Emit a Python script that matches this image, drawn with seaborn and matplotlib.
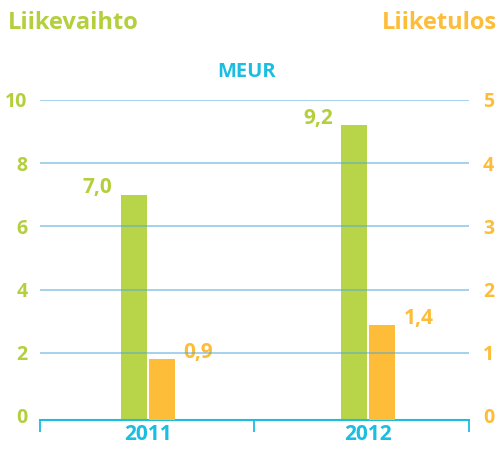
import matplotlib
matplotlib.use("Agg")
import matplotlib.pyplot as plt
import seaborn as sns
import pandas as pd

years = ["2011", "2012"]
liikevaihto = [7.0, 9.2]      # MEUR, left axis
liiketulos = [0.9, 1.44]      # MEUR, right axis
left_ticks = [0, 2, 4, 6, 8, 10]
right_ticks = [0, 1, 2, 3, 4, 5]
series = ["Liikevaihto", "Liiketulos"]

GREEN = "#b8d54a"
GREEN_TXT = "#b3d03c"
ORANGE = "#fdbd38"
CYAN = "#1bbde0"
GRID = "#4aa6d8"

sns.set_theme(style="white")
plt.rcParams["font.family"] = ["Open Sans", "DejaVu Sans"]

df_left = pd.DataFrame({"year": years, "value": liikevaihto, "series": series[0]})
df_right = pd.DataFrame({"year": years, "value": liiketulos, "series": series[1]})
palette = {series[0]: GREEN, series[1]: ORANGE}

fig = plt.figure(figsize=(5, 4.5), dpi=100)
ax = fig.add_axes([0.08, 0.0667, 0.858, 0.7111])
ax2 = ax.twinx()

sns.barplot(data=df_left, x="year", y="value", hue="series", hue_order=series,
            palette=palette, width=0.2545, gap=0.07, dodge=True, ax=ax,
            legend=False, saturation=1, order=years)
sns.barplot(data=df_right, x="year", y="value", hue="series", hue_order=series,
            palette=palette, width=0.2545, gap=0.07, dodge=True, ax=ax2,
            legend=False, saturation=1, order=years)

lo_l, hi_l = -0.127, 10
lo_r, hi_r = lo_l / 2, 5
ax.set_ylim(lo_l, hi_l)
ax2.set_ylim(lo_r, hi_r)
ax.set_xlim(-0.491, 1.459)

# extend bars down to the axis line
for a, lo in ((ax, lo_l), (ax2, lo_r)):
    for p in a.patches:
        h = p.get_height()
        if h > 0:
            p.set_y(lo)
            p.set_height(h - lo)
        p.set_linewidth(0)

# value labels
for p, v in zip([q for q in ax.patches if q.get_height() > 0.5], liikevaihto):
    ax.annotate(f"{v:.1f}".replace(".", ","), (p.get_x(), v), xytext=(-6, 1),
                textcoords="offset points", ha="right", va="baseline",
                color=GREEN_TXT, fontsize=15, fontweight="bold")
for p, v in zip([q for q in ax2.patches if q.get_height() > 0.2], liiketulos):
    ax2.annotate(f"{v:.1f}".replace(".", ","), (p.get_x() + p.get_width(), v),
                 xytext=(6, 1), textcoords="offset points", ha="left",
                 va="baseline", color=ORANGE, fontsize=15, fontweight="bold")

# gridlines on top
for t in left_ticks[1:]:
    ax2.axhline(t / 2, color=GRID, alpha=0.5, lw=1.4, zorder=5)

for a in (ax, ax2):
    for s in a.spines.values():
        s.set_visible(False)
    a.set_xlabel("")
    a.set_ylabel("")
ax.spines["bottom"].set_visible(True)
ax.spines["bottom"].set_color(CYAN)
ax.spines["bottom"].set_linewidth(1.5)

ax.set_yticks(left_ticks)
ax.set_yticklabels([str(t) for t in left_ticks])
ax2.set_yticks(right_ticks)
ax2.set_yticklabels([str(t) for t in right_ticks])
ax.tick_params(axis="y", length=0, pad=9, labelsize=14, labelcolor=GREEN_TXT)
ax2.tick_params(axis="y", length=0, pad=10, labelsize=14, labelcolor=ORANGE)
for lab in ax.get_yticklabels() + ax2.get_yticklabels():
    lab.set_fontweight("bold")

ax.set_xticks([0, 1])
ax.set_xticklabels(years)
ax.tick_params(axis="x", which="major", length=0, pad=3, labelsize=15, labelcolor=CYAN)
for lab in ax.get_xticklabels():
    lab.set_fontweight("bold")
ax.set_xticks([-0.491, 0.484, 1.459], minor=True)
ax.tick_params(axis="x", which="minor", length=8.5, width=1.3, color=CYAN,
               direction="out", bottom=True)

fig.text(0.016, 0.948, "Liikevaihto", color=GREEN_TXT, fontsize=17,
         fontweight="bold", ha="left", va="center")
fig.text(0.994, 0.948, "Liiketulos", color=ORANGE, fontsize=17,
         fontweight="bold", ha="right", va="center")
fig.text(0.494, 0.84, "MEUR", color=CYAN, fontsize=14.5, fontweight="bold",
         ha="center", va="center")

fig.savefig("out.png", dpi=100)
